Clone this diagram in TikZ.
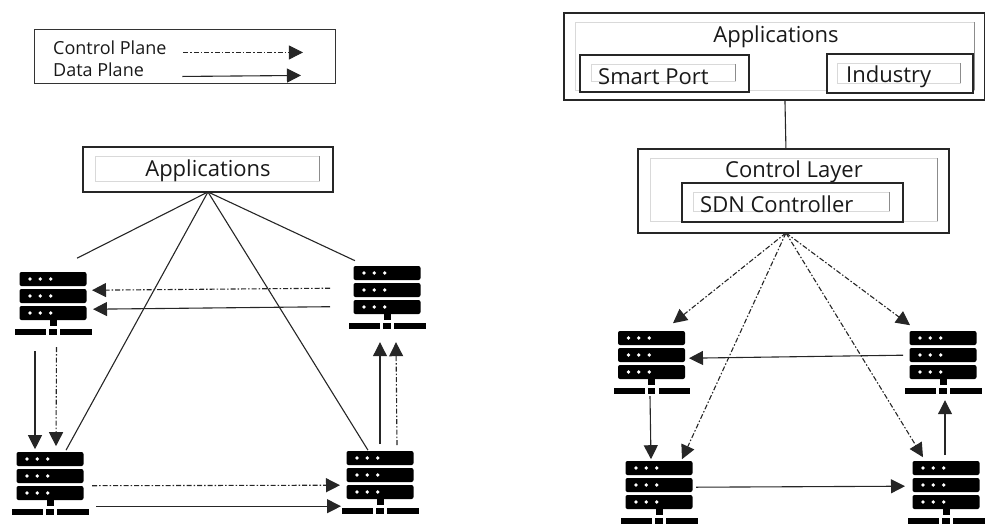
\documentclass[tikz,border=0pt]{standalone}
\usepackage{fontspec}
\setmainfont{Open Sans}
\usetikzlibrary{arrows.meta}
\definecolor{edgegray}{gray}{0.85}
\definecolor{sidegray}{gray}{0.55}
\tikzset{
  x=1pt,y=-1pt,
  outerbox/.style={draw=black!85,line width=1.9pt,fill=white,inner sep=0pt},
  innerbox/.style={draw=edgegray,line width=0.9pt},
  biglabel/.style={font=\fontsize{22}{24}\selectfont,text=black!90,inner sep=0pt,anchor=base},
  smalllabel/.style={font=\fontsize{18}{20}\selectfont,text=black!90,inner sep=0pt,anchor=base west},
  srv/.style={inner sep=0pt,minimum width=77pt,minimum height=63pt,anchor=north},
  link/.style={line width=1.1pt,draw=black!85},
  tip/.style={-{Triangle[length=14pt,width=14pt]}},
  dataarrow/.style={link,tip},
  ctrlarrow/.style={link,dash pattern=on 5pt off 2pt on 1.5pt off 2pt,tip},
}
\newcommand{\servericon}[2]{%
  \begin{scope}[shift={(#1,#2)}]
    \foreach \yy in {0,17,34}{
      \fill[black,rounded corners=2pt] (-33.5,\yy) rectangle (33.5,\yy+14);
      \foreach \xx in {-23,-12.7,-2.3}{\fill[white] (\xx,\yy+7) circle (1.9pt);}
    }
    \fill[black] (-3.5,47) rectangle (3.5,54);
    \fill[black] (-38,57) rectangle (-7,63);
    \fill[black] (-4,57) rectangle (3.5,63);
    \fill[black] (7,57) rectangle (38.5,63);
  \end{scope}}
\newcommand{\textbox}[4]{%
  \draw[innerbox] (#1,#2) rectangle (#3,#4);
  \draw[sidegray,line width=1pt] (#3,#2) -- (#3,#4);}
\newcommand{\at}[3]{([shift={(#2,#3)}]#1.center)}
\begin{document}
\begin{tikzpicture}
\useasboundingbox (0,0) rectangle (985,523);
% legend
\node[draw=black!80,line width=0.9pt,minimum width=301pt,minimum height=54pt,inner sep=0pt,anchor=north west] (legend) at (34,29) {};
\node[smalllabel] (lc) at (53,54.5) {Control Plane};
\node[smalllabel] (ld) at (53,76) {Data Plane};
\draw[ctrlarrow,line width=0.8pt] \at{legend}{-1.5}{-4} -- \at{legend}{118}{-4};
\draw[dataarrow] \at{legend}{-2.5}{20} -- \at{legend}{116}{19};
% left panel
\node[outerbox,minimum width=250pt,minimum height=45pt,anchor=north west] (appsL) at (82,146) {};
\textbox{95}{156}{319}{181}
\node[biglabel] (appsLt) at (208,176) {Applications};
\node[srv] (lTL) at (53,272) {}; \servericon{53}{272}
\node[srv] (lTR) at (387,266) {}; \servericon{387}{266}
\node[srv] (lBL) at (50,452) {}; \servericon{50}{452}
\node[srv] (lBR) at (380,451) {}; \servericon{380}{451}
\draw[link] \at{appsL}{0}{22.5} -- \at{lTL}{24}{-45.5};
\draw[link] \at{appsL}{0}{22.5} -- \at{lBL}{16}{-33.5};
\draw[link] \at{appsL}{0}{22.5} -- \at{lBR}{-12}{-32.5};
\draw[link] \at{appsL}{0}{22.5} -- \at{lTR}{-32}{-37};
\draw[ctrlarrow] \at{lTR}{-57}{-9.5} -- \at{lTL}{39}{-13.5};
\draw[dataarrow] \at{lTR}{-57}{9} -- \at{lTL}{40}{5.5};
\draw[dataarrow] \at{lTL}{-18}{47.5} -- \at{lBL}{-15}{-34.5};
\draw[ctrlarrow] \at{lTL}{3.5}{43.5} -- \at{lBL}{6}{-37.5};
\draw[ctrlarrow] \at{lBL}{42}{2} -- \at{lBR}{-40}{2.5};
\draw[dataarrow] \at{lBL}{46}{22.5} -- \at{lBR}{-39}{23.5};
\draw[dataarrow] \at{lBR}{0}{-38.5} -- \at{lTR}{-7}{44.5};
\draw[ctrlarrow] \at{lBR}{17}{-37.5} -- \at{lTR}{9}{44.5};
% right panel
\node[outerbox,minimum width=421pt,minimum height=87pt,anchor=north west] (appsR) at (563,12) {};
\textbox{575}{22}{974}{90}
\node[biglabel] (appsRt) at (776,42) {Applications};
\node[outerbox,minimum width=169pt,minimum height=37pt,anchor=north west] (port) at (579,54) {};
\textbox{591}{64}{735}{81}
\node[biglabel,anchor=base west] (portt) at (598,84) {Smart Port};
\node[outerbox,minimum width=146pt,minimum height=39pt,anchor=north west] (ind) at (826,53) {};
\textbox{837}{63}{960}{83}
\node[biglabel,anchor=base west] (indt) at (846,82.5) {Industry};
\node[outerbox,minimum width=311pt,minimum height=84pt,anchor=north west] (ctl) at (637,148) {};
\textbox{650}{158}{937}{221}
\node[biglabel] (ctlt) at (794,177.5) {Control Layer};
\node[outerbox,minimum width=221pt,minimum height=39pt,anchor=north west] (sdn) at (681,182) {};
\textbox{693}{192}{889}{211}
\node[biglabel,anchor=base west] (sdnt) at (700,212) {SDN Controller};
\draw[link] \at{appsR}{10.5}{43.5} -- \at{ctl}{-7.5}{-42};
\node[srv] (rTL) at (651.5,331) {}; \servericon{651.5}{331}
\node[srv] (rTR) at (943,331) {}; \servericon{943}{331}
\node[srv] (rBL) at (659,461) {}; \servericon{659}{461}
\node[srv] (rBR) at (946,461) {}; \servericon{946}{461}
\draw[ctrlarrow] \at{ctl}{-7.5}{42} -- \at{rTL}{21.5}{-39.5};
\draw[ctrlarrow] \at{ctl}{-7.5}{42} -- \at{rTR}{-33}{-37.5};
\draw[ctrlarrow] \at{ctl}{-7.5}{42} -- \at{rBL}{23}{-33.5};
\draw[ctrlarrow] \at{ctl}{-7.5}{42} -- \at{rBR}{-23}{-35.5};
\draw[dataarrow] \at{rTR}{-40}{-7.5} -- \at{rTL}{37.5}{-4.5};
\draw[dataarrow] \at{rTL}{-1.5}{33.5} -- \at{rBL}{-8}{-33.5};
\draw[dataarrow] \at{rBL}{37}{-5.5} -- \at{rBR}{-41}{-6.5};
\draw[dataarrow] \at{rBR}{-1}{-37.5} -- \at{rTR}{2}{37.5};
\end{tikzpicture}
\end{document}
